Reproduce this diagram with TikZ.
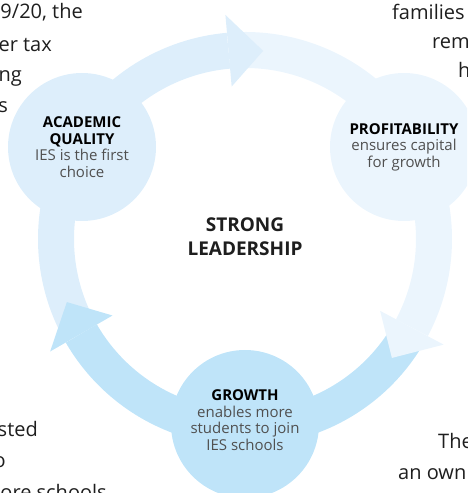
\documentclass[tikz,border=0pt]{standalone}
\usepackage{fontspec}
\setmainfont{Open Sans}
\usepackage{tikz}
\usetikzlibrary{calc}
\usepackage{xcolor}
\definecolor{acadblue}{RGB}{221,238,251}
\definecolor{profblue}{RGB}{235,245,253}
\definecolor{growblue}{RGB}{191,228,249}
\definecolor{desctext}{RGB}{80,80,80}
\definecolor{bodytext}{RGB}{30,30,30}

\begin{document}
\begin{tikzpicture}[x=1pt,y=1pt,
    band/.style={line width=36pt},
    stage/.style={circle,minimum size=148pt,inner sep=0pt,align=center,
      text=black,font=\fontsize{15}{16.5}\selectfont},
    body/.style={inner sep=0pt,text=bodytext,font=\fontsize{20}{24}\selectfont}]
   \useasboundingbox (0,0) rectangle (467,493);
   \clip (0,0) rectangle (467,493);
   \coordinate (ctr) at (245,254);
   % ring segments
   \draw[band,acadblue] ($(ctr)+(209:189)$) arc[start angle=209,end angle=95,radius=189pt];
   \draw[band,profblue] ($(ctr)+(94:189)$) arc[start angle=94,end angle=-28,radius=189pt];
   \draw[band,growblue] ($(ctr)+(-29:189)$) arc[start angle=-29,end angle=-150,radius=189pt];
   % arrow heads
   \fill[acadblue] ($(ctr)+(95:153)$) -- ($(ctr)+(84.5:189)$) -- ($(ctr)+(95:225)$) -- cycle;
   \fill[profblue] ($(ctr)+(-28:153)$) -- ($(ctr)+(-39:189)$) -- ($(ctr)+(-28:225)$) -- cycle;
   \fill[growblue] ($(ctr)+(210:153)$) -- ($(ctr)+(199.5:189)$) -- ($(ctr)+(210:225)$) -- cycle;
   % stages
   \node[stage,fill=acadblue] (quality) at (82,346)
     {\textbf{ACADEMIC}\\\textbf{QUALITY}\\{\color{desctext}IES is the first}\\{\color{desctext}choice}};
   \node[stage,fill=profblue] (profit) at (404,346)
     {\textbf{PROFITABILITY}\\{\color{desctext}ensures capital}\\{\color{desctext}for growth}};
   \node[stage,fill=growblue,text depth=8pt] (growth) at (245,69)
     {\textbf{GROWTH}\\{\color{desctext}enables more}\\{\color{desctext}students to join}\\{\color{desctext}IES schools}};
   \node[align=center,font=\bfseries\fontsize{19}{24}\selectfont,text=bodytext] (lead) at (245,256) {STRONG\\LEADERSHIP};
   % surrounding text
   \node[body,anchor=base east] (l1) at (83,474) {9/20, the};
   \node[body,anchor=base east] (l2) at (52,441) {er tax};
   \node[body,anchor=base east] (l3) at (22,411) {ng};
   \node[body,anchor=base east] (l4) at (8,380) {s};
   \node[body,anchor=base west] (r1) at (392,473) {families};
   \node[body,anchor=base west] (r2) at (432,444) {rem};
   \node[body,anchor=base west] (r3) at (458,415) {h};
   \node[body,anchor=base east] (b1) at (38,56) {sted};
   \node[body,anchor=base east] (b2) at (6,25) {o};
   \node[body,anchor=base east] (b3) at (107,-6) {ore schools};
   \node[body,anchor=base west] (c1) at (438,45) {The};
   \node[body,anchor=base west] (c2) at (398,13) {an own};
\end{tikzpicture}
\end{document}
